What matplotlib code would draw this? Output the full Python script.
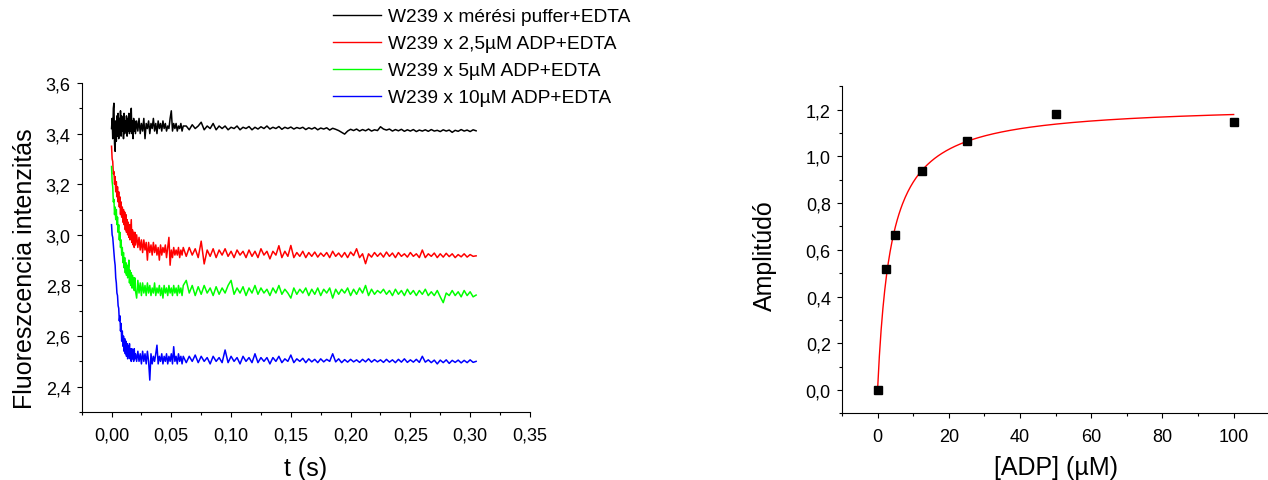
import numpy as np
import matplotlib
matplotlib.use("Agg")
import matplotlib.pyplot as plt
from matplotlib.ticker import MultipleLocator, FuncFormatter

plt.rcParams['font.family'] = ['Liberation Sans', 'DejaVu Sans']

# ---- bal oldali panel: fluoreszcencia tranziensek (idő ms-ban) ----
t_ms = [0, 0.5, 1, 1.5, 2, 2.5, 3, 3.5, 4, 4.5,
        5, 5.5, 6, 6.5, 7, 7.5, 8, 8.5, 9, 9.5,
        10, 10.5, 11, 11.5, 12, 12.5, 13, 13.5, 14, 14.5,
        15, 15.5, 16, 16.5, 17, 17.5, 18, 18.5, 19, 19.5,
        20,
        21, 22, 23, 24, 25, 26, 27, 28, 29, 30,
        31, 32, 33, 34, 35, 36, 37, 38, 39, 40,
        41, 42, 43, 44, 45, 46, 47, 48, 49, 50,
        51, 52, 53, 54, 55, 56, 57, 58, 59, 60,
        62.5, 65, 67.5, 70, 72.5, 75, 77.5, 80, 82.5, 85,
        87.5, 90, 92.5, 95, 97.5, 100, 102.5, 105, 107.5, 110,
        112.5, 115, 117.5, 120, 122.5, 125, 127.5, 130, 132.5, 135,
        137.5, 140, 142.5, 145, 147.5, 150, 152.5, 155, 157.5, 160,
        162.5, 165, 167.5, 170, 172.5, 175, 177.5, 180, 182.5, 185,
        187.5, 190, 192.5, 195, 197.5, 200, 202.5, 205, 207.5, 210,
        212.5, 215, 217.5, 220, 222.5, 225, 227.5, 230, 232.5, 235,
        237.5, 240, 242.5, 245, 247.5, 250, 252.5, 255, 257.5, 260,
        262.5, 265, 267.5, 270, 272.5, 275, 277.5, 280, 282.5, 285,
        287.5, 290, 292.5, 295, 297.5, 300, 302.5, 305]

puffer = [3.42, 3.46, 3.38, 3.50, 3.52, 3.36, 3.33, 3.45, 3.37, 3.47,
          3.39, 3.48, 3.38, 3.46, 3.40, 3.49, 3.39, 3.47, 3.41, 3.46,
          3.38, 3.48, 3.40, 3.45, 3.41, 3.47, 3.39, 3.46, 3.41, 3.48,
          3.40, 3.44, 3.41, 3.50, 3.40, 3.45, 3.38, 3.46, 3.41, 3.45,
          3.40,
          3.45, 3.41, 3.46, 3.40, 3.44, 3.41, 3.46, 3.38, 3.44, 3.42,
          3.45, 3.40, 3.44, 3.42, 3.46, 3.41, 3.44, 3.40, 3.45, 3.42,
          3.44, 3.41, 3.45, 3.42, 3.44, 3.41, 3.43, 3.42, 3.46, 3.49,
          3.41, 3.44, 3.42, 3.44, 3.41, 3.43, 3.42, 3.44, 3.41, 3.43,
          3.43, 3.415, 3.435, 3.42, 3.43, 3.445, 3.415, 3.43, 3.42, 3.44,
          3.415, 3.43, 3.42, 3.43, 3.415, 3.425, 3.42, 3.43, 3.415, 3.425,
          3.42, 3.428, 3.415, 3.425, 3.418, 3.427, 3.42, 3.43, 3.418, 3.425,
          3.42, 3.428, 3.417, 3.425, 3.42, 3.426, 3.418, 3.424, 3.42, 3.425,
          3.416, 3.423, 3.418, 3.424, 3.415, 3.422, 3.418, 3.423, 3.414, 3.421,
          3.417, 3.412, 3.405, 3.398, 3.41, 3.417, 3.412, 3.418, 3.41, 3.416,
          3.411, 3.418, 3.41, 3.415, 3.412, 3.427, 3.418, 3.414, 3.418, 3.41,
          3.416, 3.411, 3.417, 3.409, 3.415, 3.41, 3.416, 3.408, 3.414, 3.41,
          3.415, 3.409, 3.416, 3.41, 3.413, 3.408, 3.415, 3.41, 3.414, 3.405,
          3.413, 3.409, 3.416, 3.41, 3.414, 3.408, 3.415, 3.411]

adp_2_5 = [3.35, 3.30, 3.29, 3.24, 3.25, 3.20, 3.23, 3.17, 3.21, 3.15,
           3.19, 3.13, 3.17, 3.11, 3.15, 3.08, 3.13, 3.07, 3.11, 3.05,
           3.10, 3.04, 3.09, 3.02, 3.08, 3.01, 3.06, 3.00, 3.05, 2.99,
           3.04, 2.98, 3.02, 3.06, 2.97, 3.02, 2.96, 3.01, 2.95, 3.01,
           2.96,
           3.00, 2.95, 2.99, 2.94, 2.98, 2.93, 2.98, 2.94, 2.97, 2.90,
           2.97, 2.93, 2.96, 2.92, 2.97, 2.93, 2.96, 2.92, 2.95, 2.90,
           2.96, 2.92, 2.95, 2.93, 2.96, 2.91, 2.95, 2.99, 2.88, 2.94,
           2.91, 2.95, 2.92, 2.94, 2.92, 2.95, 2.91, 2.94, 2.92, 2.95,
           2.915, 2.95, 2.92, 2.945, 2.91, 2.975, 2.885, 2.94, 2.915, 2.945,
           2.91, 2.94, 2.92, 2.945, 2.915, 2.935, 2.91, 2.94, 2.92, 2.935,
           2.91, 2.94, 2.915, 2.935, 2.91, 2.945, 2.92, 2.935, 2.905, 2.935,
           2.92, 2.957, 2.91, 2.935, 2.915, 2.958, 2.91, 2.93, 2.915, 2.935,
           2.91, 2.93, 2.915, 2.932, 2.912, 2.928, 2.915, 2.93, 2.91, 2.935,
           2.915, 2.928, 2.912, 2.93, 2.91, 2.932, 2.918, 2.945, 2.91, 2.925,
           2.886, 2.925, 2.912, 2.93, 2.915, 2.928, 2.912, 2.932, 2.915, 2.928,
           2.91, 2.93, 2.915, 2.925, 2.912, 2.93, 2.915, 2.925, 2.91, 2.94,
           2.91, 2.925, 2.915, 2.928, 2.91, 2.925, 2.912, 2.927, 2.914, 2.925,
           2.91, 2.922, 2.913, 2.925, 2.912, 2.922, 2.915, 2.917]

adp_5 = [3.27, 3.21, 3.19, 3.13, 3.14, 3.08, 3.11, 3.06, 3.10, 3.04,
         3.07, 3.01, 3.04, 2.98, 3.01, 2.95, 2.98, 2.92, 2.95, 2.89,
         2.93, 2.87, 2.91, 2.85, 2.89, 2.84, 2.88, 2.83, 2.87, 2.90,
         2.81, 2.86, 2.80, 2.85, 2.79, 2.84, 2.79, 2.83, 2.78, 2.83,
         2.78,
         2.75, 2.82, 2.77, 2.81, 2.76, 2.81, 2.77, 2.80, 2.76, 2.81,
         2.77, 2.80, 2.76, 2.79, 2.77, 2.81, 2.76, 2.79, 2.77, 2.80,
         2.76, 2.79, 2.75, 2.80, 2.77, 2.79, 2.76, 2.80, 2.77, 2.79,
         2.76, 2.80, 2.77, 2.79, 2.76, 2.80, 2.77, 2.79, 2.76, 2.80,
         2.82, 2.77, 2.80, 2.76, 2.795, 2.765, 2.80, 2.77, 2.79, 2.76,
         2.795, 2.765, 2.79, 2.77, 2.80, 2.82, 2.765, 2.79, 2.77, 2.795,
         2.76, 2.79, 2.77, 2.80, 2.765, 2.79, 2.77, 2.785, 2.76, 2.79,
         2.77, 2.80, 2.765, 2.785, 2.77, 2.75, 2.79, 2.765, 2.785, 2.77,
         2.79, 2.76, 2.785, 2.765, 2.79, 2.76, 2.785, 2.77, 2.79, 2.75,
         2.785, 2.765, 2.785, 2.77, 2.79, 2.76, 2.785, 2.765, 2.79, 2.77,
         2.80, 2.76, 2.785, 2.765, 2.78, 2.77, 2.785, 2.765, 2.78, 2.76,
         2.785, 2.765, 2.78, 2.76, 2.785, 2.765, 2.78, 2.76, 2.78, 2.765,
         2.785, 2.76, 2.775, 2.76, 2.78, 2.755, 2.732, 2.77, 2.76, 2.78,
         2.76, 2.775, 2.755, 2.78, 2.76, 2.775, 2.755, 2.762]

adp_10 = [3.04, 3.00, 2.99, 2.96, 2.93, 2.90, 2.88, 2.83, 2.81, 2.77,
          2.76, 2.72, 2.71, 2.66, 2.68, 2.62, 2.65, 2.58, 2.62, 2.56,
          2.60, 2.54, 2.59, 2.53, 2.58, 2.52, 2.57, 2.51, 2.56, 2.52,
          2.57, 2.51, 2.55, 2.50, 2.55, 2.51, 2.54, 2.50, 2.55, 2.51,
          2.53,
          2.50, 2.54, 2.50, 2.53, 2.49, 2.54, 2.50, 2.53, 2.49, 2.54,
          2.50, 2.426, 2.53, 2.49, 2.52, 2.50, 2.53, 2.564, 2.49, 2.52,
          2.50, 2.53, 2.49, 2.52, 2.50, 2.53, 2.49, 2.52, 2.50, 2.53,
          2.49, 2.558, 2.50, 2.52, 2.49, 2.53, 2.50, 2.52, 2.49, 2.52,
          2.495, 2.52, 2.50, 2.525, 2.495, 2.52, 2.50, 2.515, 2.49, 2.52,
          2.50, 2.515, 2.495, 2.545, 2.495, 2.52, 2.50, 2.515, 2.49, 2.52,
          2.50, 2.515, 2.495, 2.53, 2.495, 2.515, 2.50, 2.515, 2.49, 2.515,
          2.50, 2.52, 2.495, 2.51, 2.50, 2.525, 2.495, 2.51, 2.50, 2.512,
          2.495, 2.51, 2.498, 2.508, 2.495, 2.51, 2.498, 2.508, 2.50, 2.53,
          2.498, 2.51, 2.495, 2.507, 2.497, 2.508, 2.498, 2.506, 2.496, 2.508,
          2.498, 2.51, 2.497, 2.507, 2.498, 2.506, 2.496, 2.508, 2.497, 2.506,
          2.495, 2.508, 2.497, 2.51, 2.496, 2.506, 2.497, 2.508, 2.496, 2.52,
          2.497, 2.506, 2.495, 2.505, 2.49, 2.505, 2.495, 2.506, 2.492, 2.504,
          2.496, 2.505, 2.494, 2.504, 2.495, 2.506, 2.496, 2.50]

trace_labels = ["W239 x mérési puffer+EDTA", "W239 x 2,5µM ADP+EDTA",
                "W239 x 5µM ADP+EDTA", "W239 x 10µM ADP+EDTA"]
trace_colors = ["black", "#ff0000", "#00ff00", "#0000ff"]

# ---- jobb oldali panel: amplitúdó vs [ADP] ----
adp_conc = [0, 2.5, 5, 12.5, 25, 50, 100]
amplitudo = [0.0, 0.519, 0.665, 0.936, 1.065, 1.18, 1.149]


def vesszo(fmt):
    # tizedesvessző a tengelyfeliratokon
    def f(v, pos):
        if abs(v) < 1e-9:
            v = 0.0
        return format(v, fmt).replace('.', ',')
    return FuncFormatter(f)


def tengely_stilus(ax):
    ax.spines['top'].set_visible(False)
    ax.spines['right'].set_visible(False)
    for s in ('left', 'bottom'):
        ax.spines[s].set_linewidth(0.8)
    ax.tick_params(which='both', direction='out', width=0.8, labelsize=13, pad=4.5)
    ax.tick_params(axis='x', which='both', pad=7)
    ax.tick_params(which='major', length=3.5)
    ax.tick_params(which='minor', length=2)


fig = plt.figure(figsize=(12.68, 4.81), dpi=100)

# bal panel
ax1 = fig.add_axes([0.0644, 0.1414, 0.3535, 0.684])
t_s = np.array(t_ms) / 1000.0
for y, c, lab in zip([puffer, adp_2_5, adp_5, adp_10], trace_colors, trace_labels):
    ax1.plot(t_s, y, color=c, linewidth=1.1, label=lab)
ax1.set_xlim(-0.025, 0.35)
ax1.set_ylim(2.3, 3.6)
ax1.xaxis.set_major_locator(MultipleLocator(0.05))
ax1.xaxis.set_minor_locator(MultipleLocator(0.025))
ax1.yaxis.set_major_locator(MultipleLocator(0.2))
ax1.yaxis.set_minor_locator(MultipleLocator(0.1))
ax1.xaxis.set_major_formatter(vesszo('.2f'))
ax1.yaxis.set_major_formatter(vesszo('.1f'))
tengely_stilus(ax1)
ax1.set_xlabel("t (s)", fontsize=18)
ax1.set_ylabel("Fluoreszcencia intenzitás", fontsize=18)
ax1.xaxis.set_label_coords(0.5, -0.134)
ax1.yaxis.set_label_coords(-0.1, 0.439)

# jelmagyarázat a bal panel fölött
leg = fig.legend(loc='upper left', bbox_to_anchor=(333 / 1268, 1 - 9 / 481),
                 frameon=False, fontsize=13.8, handlelength=2.5, handletextpad=0.35,
                 labelspacing=0.5, borderpad=0, borderaxespad=0)
for ln in leg.get_lines():
    ln.set_linewidth(1.0)

# jobb panel
ax2 = fig.add_axes([0.664, 0.1385, 0.337, 0.680])
ax2.plot(adp_conc, amplitudo, linestyle='none', marker='s', markersize=6,
         color='black', zorder=3)

# hiperbola illesztés: A = Amax*x/(Kd+x)
x_arr = np.array(adp_conc, dtype=float)
y_arr = np.array(amplitudo)
best = None
for kd in np.linspace(0.5, 30, 3000):
    f = x_arr / (kd + x_arr)
    amax = (f * y_arr).sum() / (f * f).sum()
    err = ((amax * f - y_arr) ** 2).sum()
    if best is None or err < best[0]:
        best = (err, kd, amax)
_, kd, amax = best
xf = np.linspace(0, 100, 400)
ax2.plot(xf, amax * xf / (kd + xf), color='#ff0000', linewidth=1.0, zorder=2)

ax2.set_xlim(-10, 110)
ax2.set_ylim(-0.1, 1.3)
ax2.xaxis.set_major_locator(MultipleLocator(20))
ax2.xaxis.set_minor_locator(MultipleLocator(10))
ax2.yaxis.set_major_locator(MultipleLocator(0.2))
ax2.yaxis.set_minor_locator(MultipleLocator(0.1))
ax2.xaxis.set_major_formatter(vesszo('.0f'))
ax2.yaxis.set_major_formatter(vesszo('.1f'))
tengely_stilus(ax2)
ax2.set_xlabel("[ADP] (µM)", fontsize=18)
ax2.set_ylabel("Amplitúdó", fontsize=18)
ax2.xaxis.set_label_coords(0.5, -0.127)
ax2.yaxis.set_label_coords(-0.153, 0.485)

fig.savefig("out.png", dpi=100)
